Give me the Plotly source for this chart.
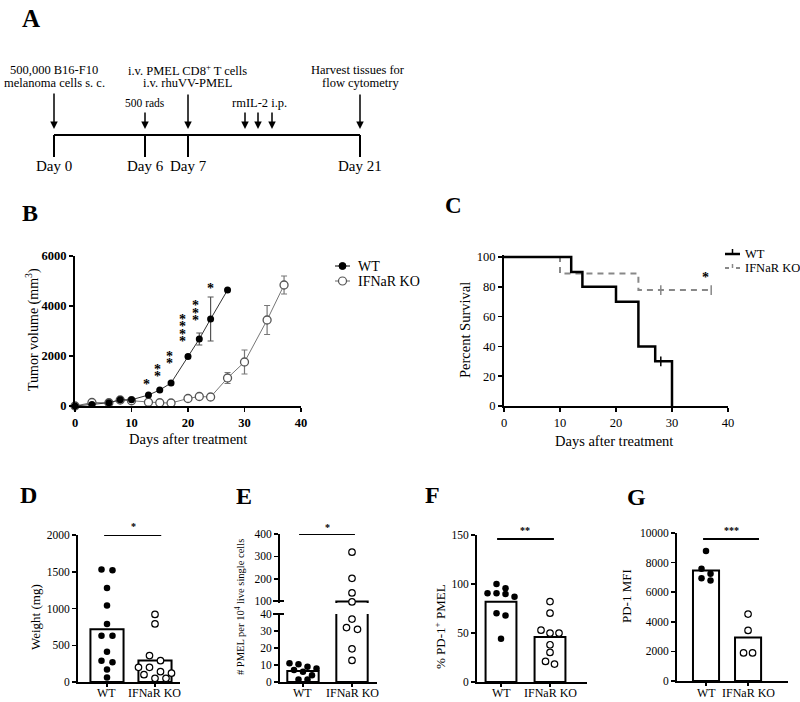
import plotly.graph_objects as go

FONT = "Liberation Serif"
W, H = 800, 702

# ---------------- DATA ----------------
# Panel A (timeline schematic)
timeline_days = ["Day 0", "Day 6", "Day 7", "Day 21"]

# Panel B: tumor volume (mm^3)
b_days_wt = [0, 3, 6, 8, 10, 13, 15, 17, 20, 22, 24, 27]
b_vol_wt = [0, 60, 130, 250, 250, 440, 640, 920, 1980, 2680, 3480, 4640]
b_err_wt = [0, 0, 0, 0, 0, 0, 0, 60, 60, 240, 880, 0]
b_days_ko = [0, 3, 6, 8, 10, 13, 15, 17, 20, 22, 24, 27, 30, 34, 37]
b_vol_ko = [0, 140, 130, 240, 210, 150, 130, 120, 300, 380, 360, 1120, 1760, 3440, 4840]
b_err_ko = [0, 0, 0, 0, 0, 0, 0, 0, 0, 0, 0, 220, 480, 580, 360]
sig_days = [12.6, 14.6, 16.8, 19.0, 21.4, 24.0]
sig_counts = [1, 2, 2, 4, 3, 1]
sig_base = [960, 1280, 1800, 2680, 3520, 4800]

# Panel C: survival
c_t_wt = [0, 12, 14, 20, 24, 27, 30]
c_s_wt = [100, 90, 80, 70, 40, 30, 0]
c_t_ko = [0, 10, 24, 37]
c_s_ko = [100, 88.9, 77.8, 77.8]
c_cens_t_wt = [28]
c_cens_s_wt = [30]
c_cens_t_ko = [28, 37]
c_cens_s_ko = [77.8, 77.8]

groups = ["WT", "IFNaR KO"]
# Panel D: weight (mg)
d_wt = [1530, 1520, 1280, 1040, 790, 630, 630, 410, 290, 270, 170, 60]
d_ko = [920, 790, 360, 290, 200, 200, 140, 120, 100, 50, 50]
# Panel E: # PMEL per 10^4 live single cells
e_wt = [11, 10.5, 9, 8, 7, 6, 4, 1.5, 1.5]
e_ko = [319, 202, 137, 97, 37, 32, 31, 19.5, 12.7]
# Panel F: % PD-1+ PMEL
f_wt = [100.1, 95.7, 90.6, 90.6, 89.9, 86.9, 70.2, 67.9, 44.1]
f_ko = [82.1, 70.2, 52.9, 49.9, 49.9, 38, 30.2, 21, 18.3]
# Panel G: PD-1 MFI
g_wt = [8780, 7580, 7240, 6950, 6790]
g_ko = [4520, 3420, 1900, 1900]


# ---------------- HELPERS ----------------
def X(p):
    return p / W


def Y(p):
    return 1 - p / H


annotations = []
shapes = []


def text(x, y, s, size=12, xanchor="center", yanchor="middle", bold=False, angle=0, color="black", xref="paper"):
    annotations.append(dict(
        x=X(x) if xref == "paper" else x, y=Y(y), xref=xref, yref="paper",
        text=f"<b>{s}</b>" if bold else s, showarrow=False,
        font=dict(family=FONT, size=size, color=color),
        xanchor=xanchor, yanchor=yanchor, textangle=angle))


def pline(x0, y0, x1, y1, width=2, color="black", dash=None):
    shapes.append(dict(type="line", xref="paper", yref="paper",
                       x0=X(x0), y0=Y(y0), x1=X(x1), y1=Y(y1),
                       line=dict(color=color, width=width, dash=dash)))


def arrow(x, head, tail, width=1.5):
    annotations.append(dict(x=X(x), y=Y(head), xref="paper", yref="paper",
                            ax=0, ay=-(head - tail), axref="pixel", ayref="pixel",
                            text="", showarrow=True, arrowhead=2, arrowsize=1,
                            arrowwidth=width, arrowcolor="black", standoff=0))


def mean(v):
    return sum(v) / len(v)


def swarm(vals, center, px_per_val, px_per_cat, spacing=9.0, diam=6.5):
    order = sorted(range(len(vals)), key=lambda i: -vals[i])
    grps = []
    for i in order:
        if grps and (vals[grps[-1][0]] - vals[i]) * px_per_val < diam:
            grps[-1].append(i)
        else:
            grps.append([i])
    xs = [center] * len(vals)
    for g in grps:
        m = len(g)
        for k, i in enumerate(g):
            xs[i] = center + (k - (m - 1) / 2) * spacing / px_per_cat
    return xs


def axis(domain, rng, size=11, **kw):
    d = dict(domain=domain, range=rng, showline=True, linewidth=2, linecolor="black",
             ticks="outside", ticklen=4, tickwidth=1.5, tickcolor="black",
             showgrid=False, zeroline=False, automargin=False, tickformat="d",
             tickfont=dict(family=FONT, size=size, color="black"))
    d.update(kw)
    return d


fig = go.Figure()

# ---------------- PANEL A ----------------
text(31, 18, "A", size=25, bold=True)
tl_x = [54, 145, 188, 360]
pline(54, 135, 360, 135, width=2)
for xx, lab in zip(tl_x, timeline_days):
    pline(xx, 135, xx, 157, width=2)
    text(xx, 166, lab, size=15)
arrow(54, 129, 92)
arrow(145, 129, 111)
arrow(188, 129, 93)
for xx in [245, 258, 272]:
    arrow(xx, 129, 111)
arrow(360, 129, 93)
text(54, 70, "500,000 B16-F10", size=12.5)
text(54, 83, "melanoma cells s. c.", size=12.5)
text(187, 70, "i.v. PMEL CD8<sup>+</sup> T cells", size=12.5)
text(187, 83, "i.v. rhuVV-PMEL", size=12.5)
text(145, 103, "500 rads", size=11.5)
text(259, 103, "rmIL-2 i.p.", size=12.5)
text(358, 70, "Harvest tissues for", size=12.5)
text(360, 83, "flow cytometry", size=12.5)

# ---------------- PANEL B ----------------
text(30, 213, "B", size=24, bold=True)
fig.add_trace(go.Scatter(
    x=b_days_ko, y=b_vol_ko, mode="lines+markers", cliponaxis=False,
    line=dict(color="#777777", width=1),
    marker=dict(symbol="circle", size=8, color="white", line=dict(color="#555555", width=1.3)),
    error_y=dict(type="data", array=b_err_ko, color="#777777", thickness=1.2, width=3),
    xaxis="x", yaxis="y", showlegend=False))
fig.add_trace(go.Scatter(
    x=b_days_wt, y=b_vol_wt, mode="lines+markers", cliponaxis=False,
    line=dict(color="#333333", width=1),
    marker=dict(symbol="circle", size=7, color="black"),
    error_y=dict(type="data", array=b_err_wt, color="#555555", thickness=1.2, width=3),
    xaxis="x", yaxis="y", showlegend=False))
for d, n, base in zip(sig_days, sig_counts, sig_base):
    for k in range(n):
        annotations.append(dict(x=d, y=base + k * 292 - 100, xref="x", yref="y", text="<b>*</b>",
                                showarrow=False, font=dict(family=FONT, size=14, color="black"),
                                xanchor="center", yanchor="middle"))
text(32, 330, "Tumor volume (mm<sup>3</sup>)", size=14, angle=-90)
text(188, 439, "Days after treatment", size=14.5)
# legend B
pline(335, 266, 350, 266, width=1, color="black")
shapes.append(dict(type="circle", xref="paper", yref="paper", x0=X(339), x1=X(346), y0=Y(269.5), y1=Y(262.5),
                   fillcolor="black", line=dict(color="black", width=1)))
pline(335, 281, 350, 281, width=1, color="#666666")
shapes.append(dict(type="circle", xref="paper", yref="paper", x0=X(338.5), x1=X(346.5), y0=Y(285), y1=Y(277),
                   fillcolor="white", line=dict(color="#555555", width=1.2)))
text(356, 266, "WT", size=14, xanchor="left")
text(356, 281, "IFNaR KO", size=14, xanchor="left")

# ---------------- PANEL C ----------------
text(453, 205, "C", size=23, bold=True)
fig.add_trace(go.Scatter(x=c_t_ko, y=c_s_ko, mode="lines", line_shape="hv",
                         line=dict(color="#888888", width=2, dash="6px,5px"),
                         xaxis="x2", yaxis="y2", showlegend=False))
fig.add_trace(go.Scatter(x=c_t_wt, y=c_s_wt, mode="lines", line_shape="hv",
                         line=dict(color="black", width=2.5),
                         xaxis="x2", yaxis="y2", showlegend=False))
fig.add_trace(go.Scatter(x=c_cens_t_ko, y=c_cens_s_ko, mode="markers",
                         marker=dict(symbol="line-ns-open", size=7, color="#888888",
                                     line=dict(color="#888888", width=1.5)),
                         xaxis="x2", yaxis="y2", showlegend=False))
fig.add_trace(go.Scatter(x=c_cens_t_wt, y=c_cens_s_wt, mode="markers",
                         marker=dict(symbol="line-ns-open", size=7, color="black",
                                     line=dict(color="black", width=1.5)),
                         xaxis="x2", yaxis="y2", showlegend=False))
text(705, 277, "<b>*</b>", size=14)
text(465, 330, "Percent Survival", size=14.5, angle=-90)
text(614, 441, "Days after treatment", size=14.5)
# legend C
pline(725, 254, 740, 254, width=2.5, color="black")
pline(732.5, 254, 732.5, 249, width=1.5, color="black")
pline(725, 268, 729, 268, width=2, color="#888888")
pline(732.5, 268, 732.5, 264, width=1.5, color="#888888")
pline(736, 268, 740, 268, width=2, color="#888888")
text(743, 254, "WT", size=12.5, xanchor="left")
text(743, 268, "IFNaR KO", size=12.5, xanchor="left")


# ---------------- BAR PANELS ----------------
def bar_panel(xa, ya, wt, ko, width, pxv, pxc, spacing):
    fig.add_trace(go.Bar(x=[0, 1], y=[mean(wt), mean(ko)], width=width,
                         marker=dict(color="white", line=dict(color="black", width=2)),
                         xaxis=xa, yaxis=ya, showlegend=False))
    fig.add_trace(go.Scatter(x=swarm(wt, 0, pxv, pxc, spacing), y=wt, mode="markers", cliponaxis=False,
                             marker=dict(size=6.5, color="black"),
                             xaxis=xa, yaxis=ya, showlegend=False))
    fig.add_trace(go.Scatter(x=swarm(ko, 1, pxv, pxc, spacing), y=ko, mode="markers", cliponaxis=False,
                             marker=dict(size=6.5, color="white", line=dict(color="black", width=1.2)),
                             xaxis=xa, yaxis=ya, showlegend=False))


def cat_labels(xa):
    for i, g in enumerate(groups):
        text(i, 693, g, size=12, xref=xa)


# D
text(28, 495, "D", size=24, bold=True)
bar_panel("x3", "y3", d_wt, d_ko, 0.69, 147 / 2000, 48, 11)
shapes.append(dict(type="line", xref="x3", yref="y3", x0=-0.06, x1=1.13, y0=2000, y1=2000,
                   line=dict(color="black", width=2)))
text(133, 526, "<b>*</b>", size=10)
text(35, 617, "Weight (mg)", size=13, angle=-90)
cat_labels("x3")

# E (broken axis)
text(244, 496, "E", size=24, bold=True)
e_wt_mean, e_ko_mean = mean(e_wt), mean(e_ko)
fig.add_trace(go.Bar(x=[0, 1], y=[e_wt_mean, e_ko_mean], width=0.64,
                     marker=dict(color="white", line=dict(color="black", width=2)),
                     xaxis="x4", yaxis="y4", showlegend=False))
fig.add_trace(go.Bar(x=[1], y=[e_ko_mean], width=0.64,
                     marker=dict(color="white", line=dict(color="black", width=2)),
                     xaxis="x4", yaxis="y5", showlegend=False))
e_ko_low = [v for v in e_ko if v <= 40]
e_ko_high = [v for v in e_ko if v > 40]
fig.add_trace(go.Scatter(x=swarm(e_wt, 0, 68 / 40, 49, 9), y=e_wt, mode="markers", cliponaxis=False,
                         marker=dict(size=6.5, color="black"), xaxis="x4", yaxis="y4", showlegend=False))
fig.add_trace(go.Scatter(x=swarm(e_ko_low, 1, 68 / 40, 49, 11), y=e_ko_low, mode="markers", cliponaxis=False,
                         marker=dict(size=6.5, color="white", line=dict(color="black", width=1.2)),
                         xaxis="x4", yaxis="y4", showlegend=False))
fig.add_trace(go.Scatter(x=swarm(e_ko_high, 1, 69 / 308, 49, 9), y=e_ko_high, mode="markers", cliponaxis=False,
                         marker=dict(size=6.5, color="white", line=dict(color="black", width=1.2)),
                         xaxis="x4", yaxis="y5", showlegend=False))
shapes.append(dict(type="line", xref="x4", yref="y5", x0=-0.08, x1=1.06, y0=400, y1=400,
                   line=dict(color="black", width=2)))
pline(273, 601, 284, 601, width=2)
pline(273, 614, 284, 614, width=2)
text(327, 527, "<b>*</b>", size=10)
text(239, 607, "# PMEL per 10<sup>4</sup> live single cells", size=10.5, angle=-90)
cat_labels("x4")

# F
text(432, 495, "F", size=24, bold=True)
bar_panel("x6", "y6", f_wt, f_ko, 0.63, 147 / 150, 49, 9)
shapes.append(dict(type="line", xref="x6", yref="y6", x0=-0.08, x1=1.08, y0=146, y1=146,
                   line=dict(color="black", width=2)))
text(525, 530, "<b>**</b>", size=10)
text(440, 627, "% PD-1<sup>+</sup> PMEL", size=13, angle=-90)
cat_labels("x6")

# G
text(636, 497, "G", size=24, bold=True)
bar_panel("x7", "y7", g_wt, g_ko, 0.62, 148 / 10000, 42, 9)
shapes.append(dict(type="line", xref="x7", yref="y7", x0=-0.07, x1=1.26, y0=9600, y1=9600,
                   line=dict(color="black", width=2)))
text(731, 530, "<b>***</b>", size=10)
text(626, 596, "PD-1 MFI", size=13, angle=-90)
cat_labels("x7")

# ---------------- LAYOUT ----------------
cat = dict(tickvals=[0, 1], ticklen=3, showticklabels=False)
fig.update_layout(
    template="none",
    width=W, height=H, margin=dict(l=0, r=0, t=0, b=0, pad=0, autoexpand=False),
    paper_bgcolor="white", plot_bgcolor="white", showlegend=False, barmode="overlay",
    font=dict(family=FONT, color="black"),
    xaxis=axis([X(75), X(301)], [0, 40], size=12.5, dtick=10, anchor="y",
               tickfont=dict(family=FONT, size=12.5, color="black", weight="bold")),
    yaxis=axis([Y(406), Y(256)], [0, 6000], size=12.5, dtick=2000, anchor="x",
               tickfont=dict(family=FONT, size=12.5, color="black", weight="bold")),
    xaxis2=axis([X(504), X(728)], [0, 40], size=12.5, dtick=10, anchor="y2"),
    yaxis2=axis([Y(406), Y(254.8)], [0, 101.5], size=12.5, tickvals=[0, 20, 40, 60, 80, 100], anchor="x2"),
    xaxis3=axis([X(78), X(180)], [-0.604, 1.521], anchor="y3", **cat),
    yaxis3=axis([Y(682), Y(535)], [0, 2000], size=11.5, dtick=500, anchor="x3"),
    xaxis4=axis([X(280), X(377)], [-0.469, 1.51], anchor="y4", **cat),
    yaxis4=axis([Y(682), Y(614)], [0, 40], size=11.5, dtick=10, anchor="x4"),
    yaxis5=axis([Y(603), Y(534)], [92, 400], size=11.5, tickvals=[100, 200, 300, 400], anchor="x4"),
    xaxis6=axis([X(477), X(587)], [-0.49, 1.755], anchor="y6", **cat),
    yaxis6=axis([Y(682), Y(535)], [0, 150], size=11.5, dtick=50, anchor="x6"),
    xaxis7=axis([X(677), X(788)], [-0.69, 1.95], anchor="y7", **cat),
    yaxis7=axis([Y(681), Y(533)], [0, 10000], size=11.5, dtick=2000, anchor="x7"),
    annotations=annotations, shapes=shapes,
)

fig.write_html("out.html", config={"displayModeBar": False, "staticPlot": True},
               post_script="document.body.style.margin='0';document.body.style.overflow='hidden';")
